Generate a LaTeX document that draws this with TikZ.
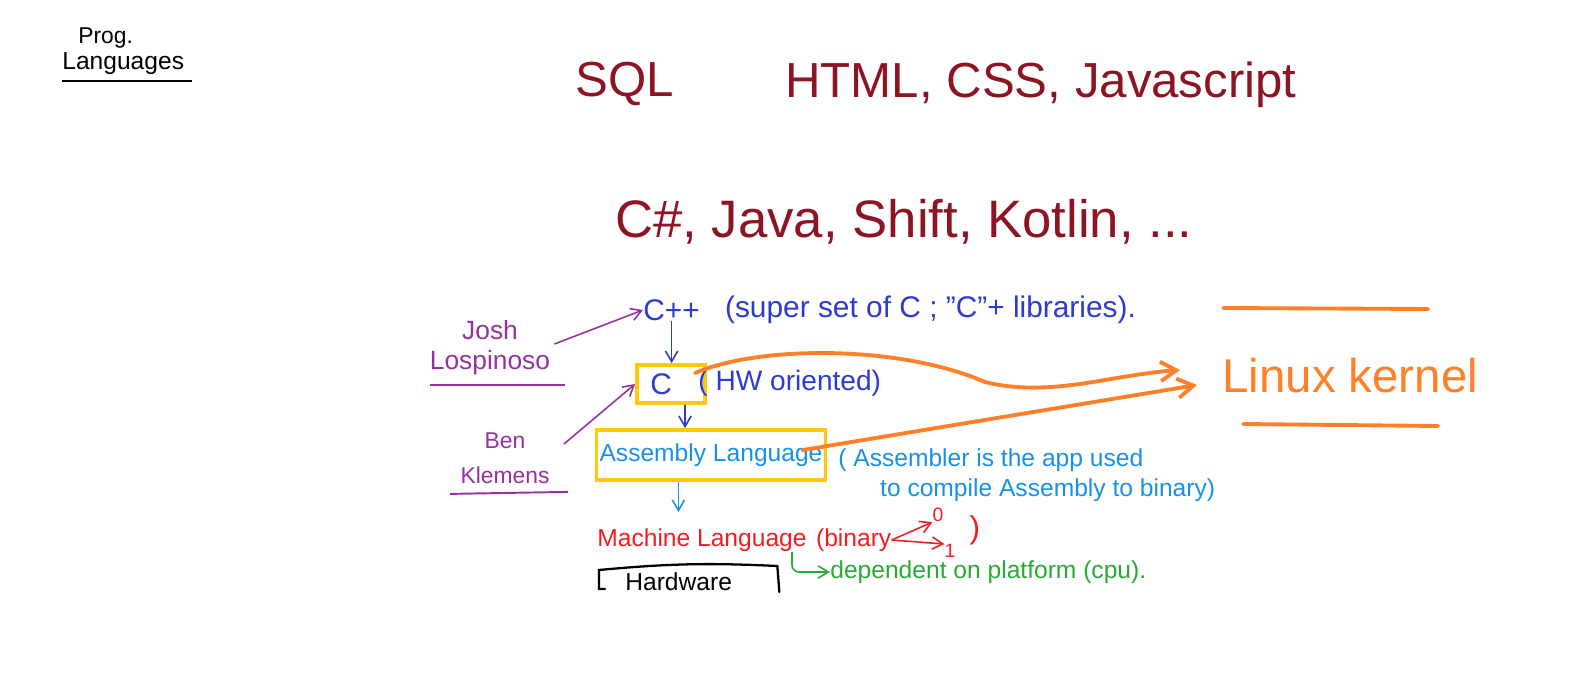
\documentclass[tikz,border=0pt]{standalone}
\usepackage{fontspec}
\setmainfont{Liberation Sans}
\usetikzlibrary{positioning, arrows.meta, calc}

\definecolor{wine}{RGB}{140,20,35}
\definecolor{penblue}{RGB}{45,60,205}
\definecolor{skyblue}{RGB}{25,145,230}
\definecolor{penred}{RGB}{240,30,35}
\definecolor{pengreen}{RGB}{40,170,55}
\definecolor{penpurple}{RGB}{150,50,160}
\definecolor{penorange}{RGB}{255,128,40}
\definecolor{penyellow}{RGB}{255,200,10}

\begin{document}
\begin{tikzpicture}[
        x=0.02cm, y=-0.02cm,
        txt/.style={inner sep=0pt, anchor=west},
        bigtxt/.style={txt, text=wine, font=\fontsize{28}{32}\selectfont},
        bluetxt/.style={txt, text=penblue, font=\fontsize{17}{20}\selectfont},
        skytxt/.style={txt, text=skyblue, font=\fontsize{14}{17}\selectfont},
        purpletxt/.style={inner sep=0pt, text=penpurple, align=center},
        hlbox/.style={draw=penyellow, line width=2.2pt, inner sep=0pt},
        arr/.style={-{Straight Barb[length=6pt, width=7pt]}, line width=0.9pt},
        orangearr/.style={-{Straight Barb[length=9pt, width=11pt]}, line width=2.2pt, penorange, line cap=round},
    ]
        \useasboundingbox (0,0) rectangle (1571,696);

        % Corner title
        \node[txt, font=\fontsize{13}{15}\selectfont] (prog) at (78,38) {Prog.};
        \node[txt, font=\fontsize{14}{16}\selectfont] (lang) at (62,64) {Languages};
        \draw[line width=1pt] ($(lang.south west)+(0,6)$) -- ($(lang.south east)+(8,6)$);

        % Top languages
        \node[bigtxt] (sql) at (575,84) {SQL};
        \node[bigtxt] (web) at (785,85) {HTML, CSS, Javascript};
        \node[bigtxt, font=\fontsize{30}{34}\selectfont] (apps) at (615,222) {C\#, Java, Shift, Kotlin, ...};

        % C++ / C / Assembly chain
        \node[bluetxt] (cpp) at (643,310) {C++};
        \node[bluetxt, right=14pt of cpp] (cppnote) {(super set of C ; \char`\"C\char`\" + libraries).};

        \node[hlbox, minimum width=1.36cm, minimum height=0.76cm, text=penblue, font=\fontsize{17}{20}\selectfont] (cbox) at (671,384) {C\,\,\,\,};
        \node[bluetxt, font=\fontsize{16}{19}\selectfont] (cnote) at (698,383) {( HW oriented)};

        \node[hlbox, minimum width=4.58cm, minimum height=1cm, text=skyblue, font=\fontsize{14}{17}\selectfont] (asm) at (711,455) {Assembly Language};
        \node[skytxt, align=left] (asmnote) at (838,475) {( Assembler is the app used\\\hspace{1.7em}to compile Assembly to binary)};

        \node[txt, text=penred, font=\fontsize{14}{17}\selectfont] (mach) at (597,540) {Machine Language};
        \node[txt, text=penred, font=\fontsize{14}{17}\selectfont, right=5pt of mach] (bin) {(binary};
        \node[inner sep=0pt, text=penred, font=\fontsize{11}{13}\selectfont] (zero) at (938,515) {0};
        \node[inner sep=0pt, text=penred, font=\fontsize{11}{13}\selectfont] (one) at (950,551) {1};
        \node[inner sep=0pt, text=penred, font=\fontsize{18}{20}\selectfont] (binclose) at (975,530) {)};

        \node[txt, text=pengreen, font=\fontsize{14}{17}\selectfont] (dep) at (830,572) {dependent on platform (cpu).};

        \node[txt, font=\fontsize{14}{17}\selectfont] (hw) at (625,582) {Hardware};

        % People
        \node[purpletxt, font=\fontsize{15}{17}\selectfont] (josh) at (490,348) {Josh\\Lospinoso};
        \node[purpletxt, font=\fontsize{13}{20}\selectfont] (ben) at (505,458) {Ben\\Klemens};

        % Linux kernel
        \node[txt, text=penorange, font=\fontsize{27}{32}\selectfont] (linux) at (1222,376) {Linux kernel};
        \coordinate (tipa) at (1180,370);
        \coordinate (tipb) at (1197,385);

        % Blue arrows down the chain
        \draw[arr, penblue] (cpp.south) -- (cpp.south |- cbox.north);
        \draw[arr, penblue] ($(cbox.south)+(14,0)$) -- ($(cbox.south |- asm.north)+(14,0)$);
        \draw[arr, skyblue] ($(asm.south west)!0.36!(asm.south east)$) -- ++(0,30);

        % Binary 0 / 1
        \draw[arr, penred] (bin.east) -- (zero.south west);
        \draw[arr, penred] (bin.east) -- (one.north west);

        % Platform dependency
        \draw[arr, pengreen, rounded corners=4pt] ($(mach.south east)+(-15,0)$) |- (dep.west);

        % Hardware bracket
        \draw[line width=1.3pt, line cap=round] ($(hw.west)+(-20,7)$) -| ($(hw.west)+(-26,-12)$) to[bend left=4] ($(hw.east)+(45,-16)$) -- ($(hw.east)+(47,10)$);

        % Purple labels
        \draw[line width=1.1pt, penpurple] ($(josh.south west)+(0,9)$) -- ($(josh.south east)+(15,9)$);
        \draw[line width=1.1pt, penpurple] ($(ben.south west)+(-10,10)$) -- ($(ben.south east)+(18,8)$);
        \draw[arr, penpurple] ($(josh.east)+(4,-4)$) -- (cpp.west);
        \draw[arr, penpurple] ($(ben.north east)+(14,12)$) -- (cbox.west);

        % Orange connectors to Linux kernel
        \draw[orangearr] ($(cbox.north east)+(-12,10)$) .. controls (760,345) and (900,345) .. (985,382) .. controls (1050,398) and (1110,375) .. (tipa);
        \draw[orangearr] ($(asm.north east)+(-25,22)$) -- (tipb);
        \draw[line width=2.2pt, penorange, line cap=round] ($(linux.center)+(-127,-68)$) -- ($(linux.center)+(78,-67)$);
        \draw[line width=2.2pt, penorange, line cap=round] ($(linux.center)+(-107,48)$) -- ($(linux.center)+(88,50)$);
    \end{tikzpicture}
\end{document}
